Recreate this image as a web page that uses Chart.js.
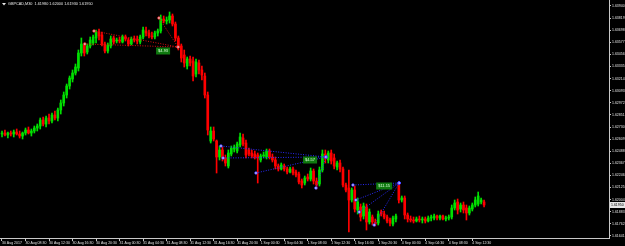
<!DOCTYPE html>
<html>
<head>
<meta charset="utf-8">
<script src="https://cdn.jsdelivr.net/npm/chart.js@4.4.1/dist/chart.umd.min.js"></script>
<style>
  html, body { margin: 0; padding: 0; background: #000; }
  canvas { display: block; }
</style>
</head>
<body>
<canvas id="chart" width="625" height="246"></canvas>
<script>
// GBPCAD M30 bars, 30 Aug 04:30 .. 4 Sep 14:30
const openPrices = [
  1.6266,1.6267,1.6265,1.6267,1.6266,1.6268,1.6266,1.6264,1.6267,1.6270,
  1.6267,1.6269,1.6272,1.6274,1.6280,1.6276,1.6282,1.6279,1.6285,1.6282,
  1.6290,1.6297,1.6305,1.6314,1.6321,1.6327,1.6332,1.6347,1.6355,1.6348,
  1.6354,1.6357,1.6362,1.6368,1.6365,1.6356,1.6349,1.6354,1.6362,1.6359,
  1.6360,1.6358,1.6363,1.6360,1.6356,1.6361,1.6360,1.6358,1.6363,1.6369,
  1.6367,1.6364,1.6363,1.6367,1.6369,1.6381,1.6379,1.6380,1.6384,1.6376,
  1.6362,1.6354,1.6345,1.6334,1.6341,1.6339,1.6326,1.6337,1.6330,1.6324,
  1.6305,1.6259,1.6269,1.6259,1.6243,1.6250,1.6242,1.6234,1.6246,1.6251,
  1.6249,1.6255,1.6262,1.6257,1.6250,1.6247,1.6246,1.6245,1.6240,1.6244,
  1.6243,1.6249,1.6243,1.6240,1.6234,1.6231,1.6234,1.6231,1.6228,1.6231,
  1.6228,1.6226,1.6219,1.6217,1.6223,1.6221,1.6229,1.6219,1.6216,1.6230,
  1.6246,1.6240,1.6247,1.6242,1.6233,1.6237,1.6231,1.6215,1.6212,1.6200,
  1.6210,1.6190,1.6193,1.6184,1.6193,1.6178,1.6183,1.6178,1.6177,1.6188,
  1.6186,1.6183,1.6180,1.6176,1.6181,1.6216,1.6200,1.6202,1.6185,1.6181,
  1.6180,1.6179,1.6181,1.6180,1.6181,1.6179,1.6182,1.6182,1.6184,1.6182,
  1.6184,1.6181,1.6182,1.6183,1.6192,1.6198,1.6191,1.6195,1.6192,1.6187,
  1.6191,1.6195,1.6196,1.6198,1.6198
];
const highPrices = [
  1.6269,1.6270,1.6268,1.6269,1.6270,1.6271,1.6269,1.6268,1.6272,1.6273,
  1.6271,1.6274,1.6276,1.6282,1.6283,1.6284,1.6286,1.6287,1.6289,1.6292,
  1.6300,1.6308,1.6316,1.6324,1.6330,1.6336,1.6350,1.6362,1.6357,1.6356,
  1.6363,1.6365,1.6370,1.6371,1.6368,1.6358,1.6357,1.6364,1.6364,1.6362,
  1.6363,1.6365,1.6365,1.6362,1.6363,1.6364,1.6364,1.6365,1.6373,1.6373,
  1.6370,1.6368,1.6369,1.6371,1.6385,1.6384,1.6383,1.6388,1.6386,1.6378,
  1.6364,1.6356,1.6350,1.6343,1.6344,1.6343,1.6341,1.6340,1.6334,1.6327,
  1.6308,1.6273,1.6273,1.6260,1.6254,1.6253,1.6245,1.6250,1.6254,1.6255,
  1.6258,1.6267,1.6266,1.6260,1.6252,1.6250,1.6249,1.6247,1.6246,1.6248,
  1.6251,1.6251,1.6246,1.6243,1.6236,1.6237,1.6236,1.6233,1.6233,1.6233,
  1.6230,1.6228,1.6221,1.6224,1.6226,1.6232,1.6231,1.6222,1.6233,1.6250,
  1.6250,1.6249,1.6250,1.6246,1.6239,1.6240,1.6233,1.6217,1.6230,1.6212,
  1.6214,1.6202,1.6196,1.6197,1.6196,1.6191,1.6185,1.6181,1.6189,1.6190,
  1.6189,1.6185,1.6182,1.6184,1.6186,1.6218,1.6204,1.6204,1.6187,1.6184,
  1.6183,1.6183,1.6184,1.6183,1.6183,1.6184,1.6185,1.6186,1.6185,1.6185,
  1.6185,1.6184,1.6185,1.6195,1.6200,1.6201,1.6197,1.6198,1.6195,1.6194,
  1.6197,1.6203,1.6208,1.6202,1.6200
];
const lowPrices = [
  1.6263,1.6264,1.6262,1.6264,1.6263,1.6265,1.6262,1.6261,1.6265,1.6266,
  1.6264,1.6267,1.6269,1.6271,1.6274,1.6273,1.6276,1.6277,1.6280,1.6279,
  1.6286,1.6294,1.6302,1.6311,1.6318,1.6325,1.6329,1.6344,1.6344,1.6346,
  1.6352,1.6355,1.6357,1.6360,1.6354,1.6347,1.6347,1.6352,1.6356,1.6357,
  1.6357,1.6357,1.6359,1.6354,1.6355,1.6358,1.6356,1.6356,1.6361,1.6364,
  1.6362,1.6361,1.6361,1.6364,1.6367,1.6377,1.6376,1.6377,1.6374,1.6359,
  1.6350,1.6338,1.6333,1.6331,1.6334,1.6319,1.6323,1.6326,1.6320,1.6302,
  1.6265,1.6257,1.6259,1.6227,1.6240,1.6239,1.6234,1.6232,1.6244,1.6248,
  1.6247,1.6253,1.6254,1.6242,1.6244,1.6242,1.6241,1.6217,1.6238,1.6242,
  1.6241,1.6241,1.6238,1.6231,1.6229,1.6230,1.6229,1.6226,1.6227,1.6225,
  1.6223,1.6216,1.6212,1.6215,1.6219,1.6219,1.6216,1.6211,1.6214,1.6228,
  1.6237,1.6237,1.6236,1.6231,1.6230,1.6228,1.6213,1.6208,1.6168,1.6198,
  1.6188,1.6186,1.6179,1.6181,1.6170,1.6176,1.6175,1.6174,1.6175,1.6184,
  1.6181,1.6177,1.6174,1.6174,1.6178,1.6197,1.6198,1.6181,1.6178,1.6178,
  1.6177,1.6178,1.6178,1.6177,1.6177,1.6178,1.6179,1.6180,1.6180,1.6180,
  1.6180,1.6179,1.6180,1.6181,1.6190,1.6186,1.6188,1.6187,1.6180,1.6185,
  1.6189,1.6193,1.6194,1.6196,1.6193
];
const closePrices = [
  1.6267,1.6265,1.6267,1.6266,1.6268,1.6266,1.6264,1.6267,1.6270,1.6267,
  1.6269,1.6272,1.6274,1.6280,1.6276,1.6282,1.6279,1.6285,1.6282,1.6290,
  1.6297,1.6305,1.6314,1.6322,1.6327,1.6333,1.6347,1.6356,1.6347,1.6354,
  1.6360,1.6363,1.6368,1.6364,1.6356,1.6349,1.6355,1.6361,1.6358,1.6360,
  1.6359,1.6363,1.6361,1.6356,1.6361,1.6360,1.6359,1.6363,1.6370,1.6367,
  1.6364,1.6363,1.6367,1.6369,1.6381,1.6379,1.6380,1.6384,1.6376,1.6362,
  1.6354,1.6342,1.6337,1.6341,1.6337,1.6324,1.6338,1.6330,1.6325,1.6305,
  1.6270,1.6269,1.6261,1.6243,1.6250,1.6242,1.6237,1.6247,1.6252,1.6253,
  1.6256,1.6263,1.6256,1.6245,1.6246,1.6244,1.6243,1.6242,1.6244,1.6245,
  1.6249,1.6243,1.6240,1.6234,1.6231,1.6235,1.6231,1.6228,1.6231,1.6227,
  1.6225,1.6218,1.6215,1.6222,1.6221,1.6229,1.6219,1.6215,1.6230,1.6246,
  1.6241,1.6247,1.6239,1.6234,1.6237,1.6231,1.6215,1.6210,1.6200,1.6210,
  1.6191,1.6198,1.6183,1.6194,1.6178,1.6188,1.6178,1.6176,1.6186,1.6186,
  1.6183,1.6179,1.6177,1.6182,1.6184,1.6200,1.6202,1.6185,1.6181,1.6180,
  1.6179,1.6181,1.6180,1.6181,1.6179,1.6182,1.6183,1.6184,1.6182,1.6184,
  1.6181,1.6182,1.6183,1.6192,1.6197,1.6190,1.6195,1.6190,1.6187,1.6192,
  1.6195,1.6200,1.6204,1.6200,1.6195
];

// one time label every 8 bars
const timeLabels = [
  '30 Aug 2017', '30 Aug 08:30', '30 Aug 12:30', '30 Aug 16:30', '30 Aug 20:30',
  '31 Aug 00:30', '31 Aug 04:30', '31 Aug 08:30', '31 Aug 12:30', '31 Aug 16:30',
  '31 Aug 20:30', '1 Sep 00:30', '1 Sep 04:30', '1 Sep 08:30', '1 Sep 12:30',
  '1 Sep 16:30', '1 Sep 20:30', '4 Sep 00:30', '4 Sep 04:30', '4 Sep 08:30',
  '4 Sep 12:30'
];
const priceTicks = [
  1.63940, 1.63819, 1.63698, 1.63577, 1.63456, 1.63335, 1.63214, 1.63093,
  1.62972, 1.62851, 1.62730, 1.62609, 1.62488, 1.62367, 1.62246, 1.62125,
  1.62004, 1.61883, 1.61762, 1.61641
];

// trade history arrows: [bar, price]
const sellOpens = [[28.2, 1.6356], [31.3, 1.6369], [53.4, 1.6382]];
const sellClose = [59.9, 1.6353];
const buyOpensA = [[74.5, 1.6254], [75.2, 1.6242], [86.4, 1.6227], [106.8, 1.6212]];
const buyCloseA = [110.2, 1.6243];
const buyOpensB = [[119.4, 1.6215], [120.4, 1.6200], [121.5, 1.6188], [126.6, 1.6175]];
const buyCloseB = [135.1, 1.6217];
const profitLabels = ['$4.93', '$4.57', '$11.15'];
const profitSpots = [[54.8, 1.6349], [104.8, 1.6240], [130, 1.6214]];

const UP = '#00e000', DOWN = '#ff0000';
const candleColors = closePrices.map((c, i) => c >= openPrices[i] ? UP : DOWN);

const wickData = highPrices.map((h, i) => ({ x: i, y: [lowPrices[i], h] }));
const bodyData = openPrices.map((o, i) => ({ x: i, y: [o, closePrices[i]] }));

function tradeLines(opens, close, color) {
  return opens.map(p => ({
    type: 'line',
    data: [{ x: p[0], y: p[1] }, { x: close[0], y: close[1] }],
    borderColor: color,
    borderWidth: 1,
    borderDash: [1, 1.5],
    pointRadius: 1.3,
    pointBackgroundColor: '#f4f4ff',
    pointBorderColor: color,
    pointBorderWidth: 0.8,
    order: 0
  }));
}

const title = 'GBPCAD,M30  1.61980 1.62000 1.61930 1.61950';

const mtOverlay = {
  id: 'mtOverlay',
  afterDraw(chart) {
    const { ctx, scales: { x, y } } = chart;
    ctx.save();
    ctx.textBaseline = 'middle';
    // header
    ctx.fillStyle = '#e8e8e8';
    ctx.beginPath();
    ctx.moveTo(2, 3); ctx.lineTo(6, 3); ctx.lineTo(4, 5.5); ctx.closePath();
    ctx.fill();
    ctx.font = '3.8px "Liberation Sans"';
    ctx.textAlign = 'left';
    ctx.fillText(title, 8, 4.3);
    // profit boxes
    ctx.font = '4px "Liberation Sans"';
    profitLabels.forEach((t, k) => {
      const px = x.getPixelForValue(profitSpots[k][0]);
      const py = y.getPixelForValue(profitSpots[k][1]);
      const w = ctx.measureText(t).width + 4;
      ctx.fillStyle = '#0f7a0f';
      ctx.fillRect(px - w / 2, py - 3.5, w, 7);
      ctx.fillStyle = '#dfffdf';
      ctx.textAlign = 'center';
      ctx.fillText(t, px, py + 0.3);
    });
    // bid label
    const last = closePrices[closePrices.length - 1];
    const by = y.getPixelForValue(last);
    ctx.fillStyle = '#e6e6e6';
    ctx.fillRect(x.right + 1, by - 3, 15, 6);
    ctx.fillStyle = '#000';
    ctx.textAlign = 'left';
    ctx.font = '3.5px "Liberation Sans"';
    ctx.fillText(last.toFixed(5), x.right + 2, by + 0.2);
    ctx.restore();
  }
};

new Chart(document.getElementById('chart'), {
  type: 'bar',
  data: {
    datasets: [
      {
        data: wickData,
        backgroundColor: candleColors,
        barThickness: 1,
        grouped: false,
        order: 2
      },
      {
        data: bodyData,
        backgroundColor: candleColors,
        barThickness: 2,
        grouped: false,
        order: 1
      },
      ...tradeLines(sellOpens, sellClose, '#e01010'),
      ...tradeLines(buyOpensA, buyCloseA, '#2a2aff'),
      ...tradeLines(buyOpensB, buyCloseB, '#2a2aff')
    ]
  },
  options: {
    responsive: false,
    animation: false,
    layout: { padding: 0, autoPadding: false },
    plugins: { legend: { display: false }, tooltip: { enabled: false } },
    scales: {
      x: {
        type: 'linear',
        offset: false,
        min: -0.68,
        max: 206.5,
        grid: { drawOnChartArea: false, drawTicks: true, tickLength: 3, color: '#c8c8c8', offset: false },
        border: { display: true, color: '#c8c8c8' },
        afterBuildTicks: s => { s.ticks = timeLabels.map((t, k) => ({ value: k * 8 })); },
        afterFit: s => { s.height = 8; s.paddingLeft = 0; s.paddingRight = 0; },
        ticks: {
          autoSkip: false,
          maxRotation: 0,
          align: 'start',
          padding: 0,
          color: '#e0e0e0',
          font: { family: 'Liberation Sans', size: 3.5 },
          callback: v => timeLabels[Math.round(v / 8)]
        }
      },
      y: {
        position: 'right',
        min: 1.6162,
        max: 1.6400,
        grid: { drawOnChartArea: false, drawTicks: true, tickLength: 2, color: '#c8c8c8' },
        border: { display: true, color: '#c8c8c8' },
        afterBuildTicks: s => { s.ticks = priceTicks.map(v => ({ value: v })); },
        afterFit: s => { s.width = 16; s.paddingTop = 0; s.paddingBottom = 0; },
        ticks: {
          autoSkip: false,
          padding: 1,
          color: '#e0e0e0',
          font: { family: 'Liberation Sans', size: 3.5 },
          callback: v => v.toFixed(5)
        }
      }
    }
  },
  plugins: [mtOverlay]
});
</script>
</body>
</html>
